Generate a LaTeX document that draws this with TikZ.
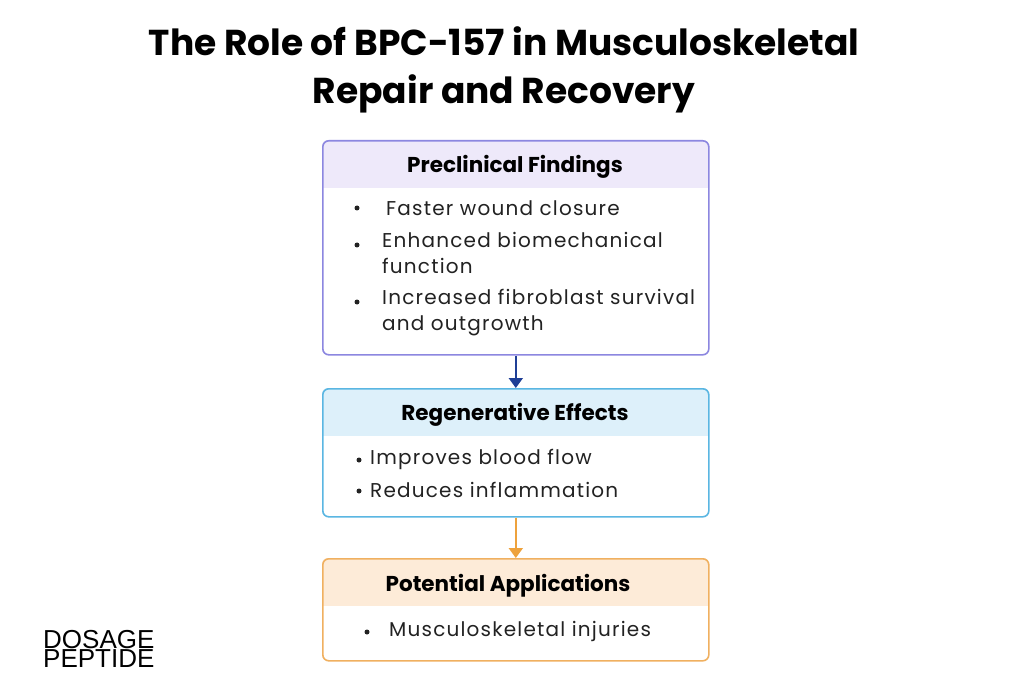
\documentclass[tikz,border=0pt]{standalone}
\usepackage{fontspec}
\setmainfont{Poppins}
\newfontfamily\logo{Liberation Sans}
\newfontfamily\body[LetterSpace=6]{Poppins}
\usetikzlibrary{arrows.meta}
\definecolor{b1}{HTML}{8C87E0}\definecolor{h1}{HTML}{EEE9FA}
\definecolor{b2}{HTML}{5AB6E2}\definecolor{h2}{HTML}{DDF0FA}
\definecolor{b3}{HTML}{F0B060}\definecolor{h3}{HTML}{FDEBD8}
\definecolor{a1}{HTML}{1F3F96}\definecolor{a2}{HTML}{EEA23C}
\definecolor{txt}{HTML}{222222}
\tikzset{
 box/.style={draw=#1,line width=1.6pt,rounded corners=6pt,anchor=north west,inner sep=0pt},
 hd/.style={font=\bfseries\fontsize{21.5}{24}\selectfont,text=black},
 it/.style={font=\body\fontsize{20}{26}\selectfont,text=txt,anchor=west,align=left,inner sep=0pt},
 bul/.style={circle,fill=txt,inner sep=0pt,minimum size=5pt},
 arr/.style={line width=2pt,-{Triangle[length=10pt,width=14pt]}}
}
\begin{document}
\begin{tikzpicture}[x=1pt,y=-1pt]
\useasboundingbox[fill=white] (0,0) rectangle (1024,700);
\node[font=\bfseries\fontsize{36}{48}\selectfont,align=center] (title) at (504,70) {The Role of BPC-157 in Musculoskeletal\\Repair and Recovery};
% box 1
\begin{scope}\clip[rounded corners=6pt] (322,140) rectangle (708,354);
\fill[h1] (322,140) rectangle (708,188);\end{scope}
\node[box=b1,minimum width=386pt,minimum height=214pt] (p) at (322,140) {};
\node[hd] (ph) at (515,167) {Preclinical Findings};
\node[bul] (pb1) at (357,208) {};
\node[it] (pi1) at (386,208) {Faster wound closure};
\node[bul] (pb2) at (357,245) {};
\node[it,anchor=north west] (pi2) at (382,232) {Enhanced biomechanical\\function};
\node[bul] (pb3) at (357,302) {};
\node[it,anchor=north west] (pi3) at (382,289) {Increased fibroblast survival\\and outgrowth};
% box 2
\begin{scope}\clip[rounded corners=6pt] (322,388) rectangle (708,516);
\fill[h2] (322,388) rectangle (708,436);\end{scope}
\node[box=b2,minimum width=386pt,minimum height=128pt] (r) at (322,388) {};
\node[hd] (rh) at (515,415) {Regenerative Effects};
\node[bul] (rb1) at (359,460) {};
\node[it] (ri1) at (370,459) {Improves blood flow};
\node[bul] (rb2) at (359,491) {};
\node[it] (ri2) at (370,490) {Reduces inflammation};
% box 3
\begin{scope}\clip[rounded corners=6pt] (322,558) rectangle (708,660);
\fill[h3] (322,558) rectangle (708,606);\end{scope}
\node[box=b3,minimum width=386pt,minimum height=102pt] (a) at (322,558) {};
\node[hd] (ah) at (508,586) {Potential Applications};
\node[bul] (ab1) at (367,632) {};
\node[it] (ai1) at (389,631) {Musculoskeletal injuries};
% arrows
\draw[arr,a1] (p.south) -- (r.north);
\draw[arr,a2] (r.south) -- (a.north);
% logo
\node[font=\logo\fontsize{26}{18}\selectfont,align=left,anchor=north west,inner sep=0pt] (lg) at (43,630) {DOSAGE\\PEPTIDE};
\end{tikzpicture}
\end{document}
